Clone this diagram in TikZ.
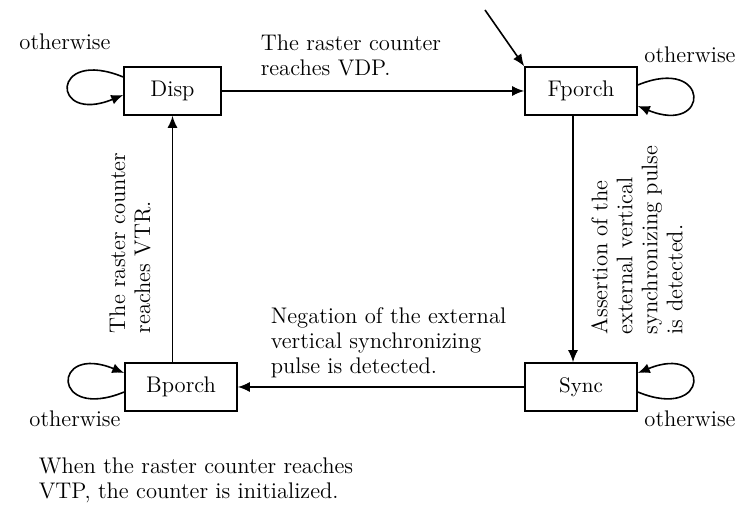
\documentclass[tikz,border=0pt]{standalone}
\usetikzlibrary{arrows.meta}
\begin{document}
\begin{tikzpicture}[x=0.5pt, y=-0.5pt, line width=0.8pt, >={Latex[length=6pt,width=5pt]},
  every node/.style={font=\fontsize{11.3}{12.5}\selectfont},
  state/.style={draw, minimum width=56pt, minimum height=24pt, inner sep=0pt},
  lbl/.style={align=left, inner sep=0pt}]
  \useasboundingbox (0,0) rectangle (745,507);
  % the four states
  \node[state, minimum width=48.5pt] (disp) at (172.5,91) {Disp};
  \node[state] (fporch) at (581,91) {Fporch};
  \node[state, font=\fontsize{10.5}{12}\selectfont] (sync) at (581,387) {Sync};
  \node[state] (bporch) at (181,387) {Bporch};
  \coordinate (init) at (485,10);
  % transitions
  \draw[->] (init) -- (fporch.north west);
  \draw[->] (disp) -- (fporch);
  \draw[->] ([xshift=-4pt]fporch.south) -- ([xshift=-4pt]sync.north);
  \draw[->] (sync) -- (bporch);
  \draw[->] (bporch.north -| disp.south) -- (disp.south);
  % self loops
  \draw[->] ([yshift=7pt]disp.west) .. controls +(-73,-30) and +(-73,30) .. ([yshift=-2pt]disp.west);
  \draw[->] ([yshift=3pt]fporch.east) .. controls +(73,-30) and +(73,30) .. ([yshift=-7.5pt]fporch.east);
  \draw[->] ([yshift=-2.5pt]sync.east) .. controls +(73,30) and +(73,-30) .. ([yshift=7pt]sync.east);
  \draw[->] ([yshift=-2.5pt]bporch.west) .. controls +(-73,30) and +(-73,-30) .. ([yshift=7pt]bporch.west);
  % labels
  \node (o1) at (65,42) {otherwise};
  \node (o2) at (690,55) {otherwise};
  \node (o3) at (690,419) {otherwise};
  \node (o4) at (75,419) {otherwise};
  \node[lbl, anchor=west] (vdp) at (260,55) {The raster counter\\reaches VDP.};
  \node[lbl, rotate=90] (vtr) at (130,243) {The raster counter\\reaches VTR.};
  \node[lbl, rotate=90] (assert) at (637,240) {Assertion of the\\external vertical\\synchronizing pulse\\is detected.};
  \node[lbl, anchor=west] (negate) at (270,343) {Negation of the external\\vertical synchronizing\\pulse is detected.};
  \node[lbl, anchor=west] (note) at (38,480) {When the raster counter reaches\\VTP, the counter is initialized.};
\end{tikzpicture}
\end{document}
